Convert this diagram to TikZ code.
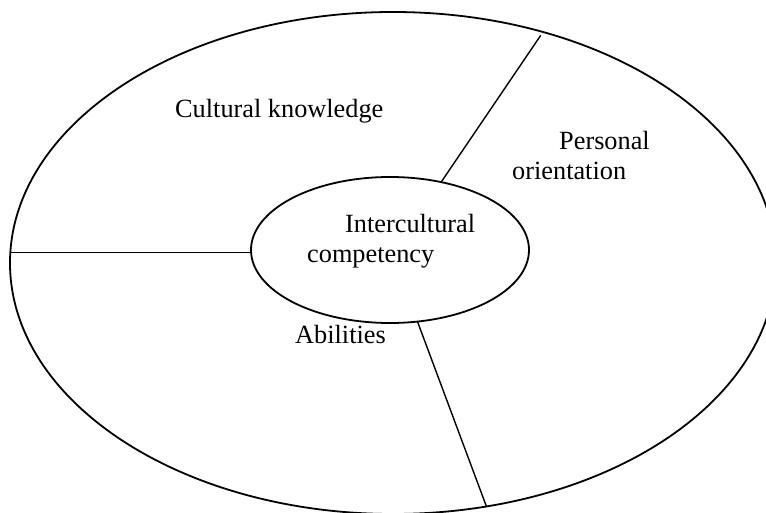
\documentclass[tikz,border=0pt]{standalone}
\usepackage{fontspec}
\setmainfont{Liberation Serif}
\usetikzlibrary{shapes.geometric}
\tikzset{
    field/.style={
        draw,ellipse,line width=1.8pt,
        inner sep=0pt,outer sep=0pt
    },
    area label/.style={inner sep=0pt,anchor=base west},
    divider/.style={line width=1.4pt}
}

\begin{document}
\begin{tikzpicture}[x=1pt,y=-1pt,font=\fontsize{26.3}{30}\selectfont]
\clip (0,0) rectangle (766,513);
\node[field,minimum width=766pt,minimum height=502pt] (outer) at (393,263) {};
\node[field,minimum width=278pt,minimum height=146pt] (core) at (390,250) {};
% the dividers run from the core out to the rim
\draw[divider] (core.181) -- (core.181 -| outer.west);
\foreach \a/\b/\s in {53/57.4/4,291/291.2/0}
    \draw[divider,shorten >=\s pt] (core.\a) -- (outer.\b);
\node[area label] (knowledge) at (175,118) {Cultural knowledge};
\node[area label,text width=150pt,align=left] (orientation) at (512,150) {\hspace*{47pt}Personal\\orientation};
\node[area label,text width=170pt,align=left] (competency) at (307,233) {\hspace*{38pt}Intercultural\\competency};
\node[area label] (abilities) at (295,343) {Abilities};
\end{tikzpicture}
\end{document}
